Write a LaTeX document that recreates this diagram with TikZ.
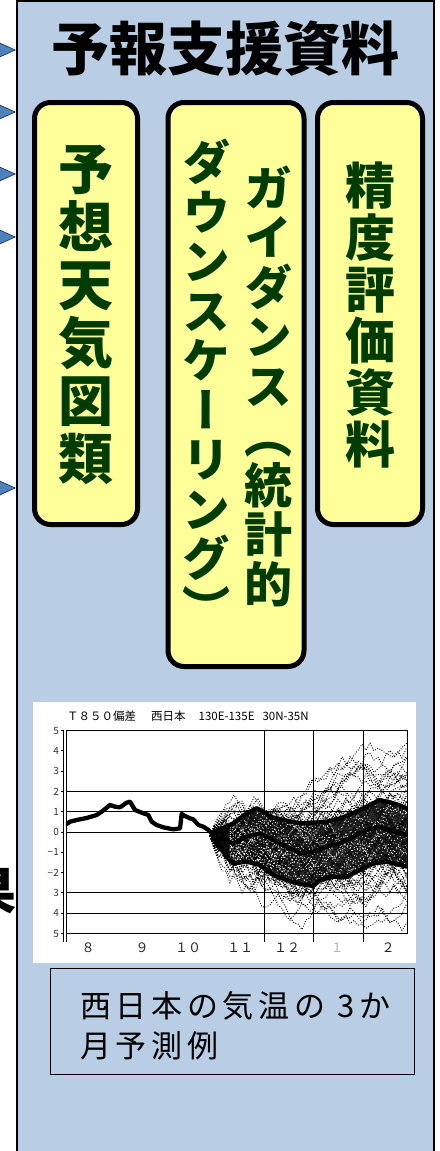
\documentclass[tikz,border=0pt]{standalone}
\usepackage{fontspec}
\usepackage{graphicx}
\usetikzlibrary{arrows.meta}
\newfontfamily\jp{Noto Sans CJK JP}
\newfontfamily\jpv{Noto Sans CJK JP}[RawFeature=+vert]
\definecolor{panelblue}{RGB}{185,205,228}
\definecolor{boxyellow}{RGB}{255,255,153}
\definecolor{textgreen}{RGB}{0,60,0}
\definecolor{arrowblue}{RGB}{79,129,189}
\definecolor{arrowline}{RGB}{30,50,90}
\begin{document}
\begin{tikzpicture}[x=1pt,y=-1pt,
  panel/.style={draw=black, line width=2pt, fill=panelblue, inner sep=0pt, anchor=north west},
  ybox/.style={draw=black, line width=5pt, fill=boxyellow, rounded corners=16pt, inner sep=0pt},
  vt/.style={text=textgreen, align=center, inner sep=0pt},
  conn/.style={draw=arrowline, line width=0.7pt, -{Triangle[length=19pt,width=17pt,fill=arrowblue]}},
  gridline/.style={draw=black, line width=0.9pt},
  thickline/.style={draw=black, line width=4.3pt, line join=round, line cap=round},
  ens/.style={draw=black, line width=0.9pt, dash pattern=on 0.9pt off 1.6pt},
  speck/.style={draw=white, line width=0.8pt, dash pattern=on 0.8pt off 2.6pt},
  ylab/.style={anchor=east, inner sep=0pt, font=\jp\fontsize{10}{10}\selectfont, text=black!80},
  xlab/.style={inner sep=0pt, font=\jp\fontsize{13}{13}\selectfont, text=black!85}]
\useasboundingbox (0,0) rectangle (439,1151);
\pgfmathsetseed{3}

% main panel
\node[panel, minimum width=417pt, minimum height=1250pt] (panel) at (16,0) {};
\node[inner sep=0pt, font=\jp\bfseries\fontsize{58}{58}\selectfont] (title) at (225,48.5) {予報支援資料};

% incoming connectors (only heads visible)
\coordinate (a1) at (-40,50);
\coordinate (a2) at (-40,112);
\coordinate (a3) at (-40,174);
\coordinate (a4) at (-40,237);
\coordinate (a5) at (-40,488);
\foreach \a in {a1,a2,a3,a4,a5} \draw[conn] (\a) -- (\a -| panel.west);

% cut-off character at the left edge (as in the reference)
\node[inner sep=0pt, font=\jp\bfseries\fontsize{52}{52}\selectfont] (cut) at (-9,892) {果};

% yellow boxes
\node[ybox, minimum width=103pt, minimum height=422pt] (b1) at (86,313.5) {};
\node[ybox, minimum width=136pt, minimum height=564pt] (b2) at (236,384.5) {};
\node[ybox, minimum width=105pt, minimum height=422pt] (b3) at (370,313.5) {};

\node[vt, font=\jpv\bfseries\fontsize{55}{58}\selectfont] (t1) at (86,315) {予\\想\\天\\気\\図\\類};
\node[vt, font=\jpv\bfseries\fontsize{48}{49.5}\selectfont] (t2r) at (268,386) {ガ\\イ\\ダ\\ン\\ス\\（\\統\\計\\的};
\node[vt, font=\jpv\bfseries\fontsize{48}{49.5}\selectfont] (t2l) at (206,383) {ダ\\ウ\\ン\\ス\\ケ\\ー\\リ\\ン\\グ\\）};
\node[vt, font=\jpv\bfseries\fontsize{50}{51.7}\selectfont] (t3) at (370,315) {精\\度\\評\\価\\資\\料};

% chart
\node[fill=white, inner sep=0pt, minimum width=383pt, minimum height=261pt, anchor=north west] (chart) at (33,702) {};
\node[anchor=west, inner sep=0pt, font=\jp\fontsize{11.5}{12}\selectfont] (ctitle) at (67,716) {Ｔ８５０偏差\hspace{15pt}西日本\hspace{13pt}130E-135E\hspace{8pt}30N-35N};

\draw[gridline] (66,730.5) -- (407,730.5) -- (407,933.5) -- (66,933.5);
\foreach \v in {2,1,0,-3,-4} \draw[gridline] (66,{832-20.3*\v}) -- (407,{832-20.3*\v});
\foreach \xx in {264,313,363} \draw[gridline] (\xx,730.5) -- (\xx,942);
\draw[gridline] (63.5,729.5) -- (63.5,942);
\draw[gridline] (66,730.5) -- (66,942);
\foreach \v in {5,4,3,2,1,0,-1,-2,-3,-4,-5} \draw[gridline] (60.5,{832-20.3*\v}) -- (63.5,{832-20.3*\v});
\foreach \v/\t in {5/5,4/4,3/3,2/2,1/1,0/0,-1/−1,-2/−2,-3/3,-4/4,-5/5}
  \node[ylab] (yl\v) at (59,{832-20.3*\v}) {\t};
\foreach \xx/\t [count=\i] in {88/８,142/９,188/１０,240/１１,287/１２,388/２}
  \node[xlab] (xl\i) at (\xx,948) {\t};
\node[xlab, text=black!30] (xl7) at (337,948) {１};

\begin{scope}[shift={(0,680)}, scale=1/3]
  \clip (198,150) rectangle (1221,760);
  \fill[black!85] (625,452) -- (640,450) -- (700,425) -- (740,395) -- (770,380) -- (790,390) -- (810,405) -- (850,415) -- (900,425) -- (940,423) -- (980,420) -- (1020,410) -- (1060,395) -- (1100,375) -- (1140,355) -- (1180,365) -- (1222,380)
    -- (1222,565) -- (1200,560) -- (1160,550) -- (1120,555) -- (1080,575) -- (1040,595) -- (1000,595) -- (960,605) -- (940,623) -- (900,617) -- (860,605) -- (820,590) -- (780,560) -- (740,550) -- (700,555) -- (680,535) -- (640,490) -- cycle;
  \foreach \m in {1,...,72} {
    \draw[ens] (630,468) \foreach \k in {1,...,50} { -- ++(12,{rand*ifthenelse(\k<14,36,28)+ifthenelse(\k<23,2.2,ifthenelse(\k<46,-2.7,0))}) };
  }
  \begin{scope}
    \clip (625,452) -- (640,450) -- (700,425) -- (740,395) -- (770,380) -- (790,390) -- (810,405) -- (850,415) -- (900,425) -- (940,423) -- (980,420) -- (1020,410) -- (1060,395) -- (1100,375) -- (1140,355) -- (1180,365) -- (1222,380)
    -- (1222,565) -- (1200,560) -- (1160,550) -- (1120,555) -- (1080,575) -- (1040,595) -- (1000,595) -- (960,605) -- (940,623) -- (900,617) -- (860,605) -- (820,590) -- (780,560) -- (740,550) -- (700,555) -- (680,535) -- (640,490) -- cycle;
    \foreach \m in {1,...,32} {
      \draw[speck] (690,{500+rand*70}) \foreach \k in {1,...,45} { -- ++(12,{rand*30}) };
    }
  \end{scope}
  % analysis
  \draw[thickline] (198,433) -- (210,425) -- (230,420) -- (260,414) -- (290,405) -- (305,395) -- (330,375) -- (345,380) -- (360,382) -- (380,368) -- (390,365) -- (405,390) -- (430,400) -- (445,405) -- (455,425) -- (470,435) -- (490,442) -- (505,445) -- (520,448) -- (540,445) -- (545,402) -- (555,408) -- (570,415) -- (580,418) -- (595,435) -- (610,440) -- (625,450) -- (640,465);
  % ensemble statistics
  \draw[thickline] (640,460) -- (700,430) -- (740,400) -- (770,385) -- (790,395) -- (810,410) -- (850,420) -- (900,430) -- (940,428) -- (980,425) -- (1020,415) -- (1060,400) -- (1100,380) -- (1140,360) -- (1180,370) -- (1222,385);
  \draw[thickline] (640,468) -- (700,490) -- (740,470) -- (780,460) -- (820,480) -- (860,500) -- (900,520) -- (940,515) -- (980,500) -- (1020,490) -- (1060,470) -- (1100,450) -- (1140,440) -- (1180,455) -- (1222,465);
  \draw[thickline] (640,472) -- (680,530) -- (700,550) -- (740,545) -- (780,555) -- (820,585) -- (860,600) -- (900,612) -- (940,618) -- (960,600) -- (1000,590) -- (1040,590) -- (1080,570) -- (1120,550) -- (1160,545) -- (1200,555) -- (1222,560);
\end{scope}

% caption
\node[draw=black, line width=1.6pt, minimum width=364pt, minimum height=106pt, inner sep=0pt] (capbox) at (232.5,1021.5) {};
\node[anchor=north west, inner sep=0pt, align=left, font=\jp\fontsize{31}{40}\selectfont\addfontfeature{LetterSpace=15}] (captxt) at (80,991) {西日本の気温の\hspace{0.4em}3か\\月予測例};
\end{tikzpicture}
\end{document}
